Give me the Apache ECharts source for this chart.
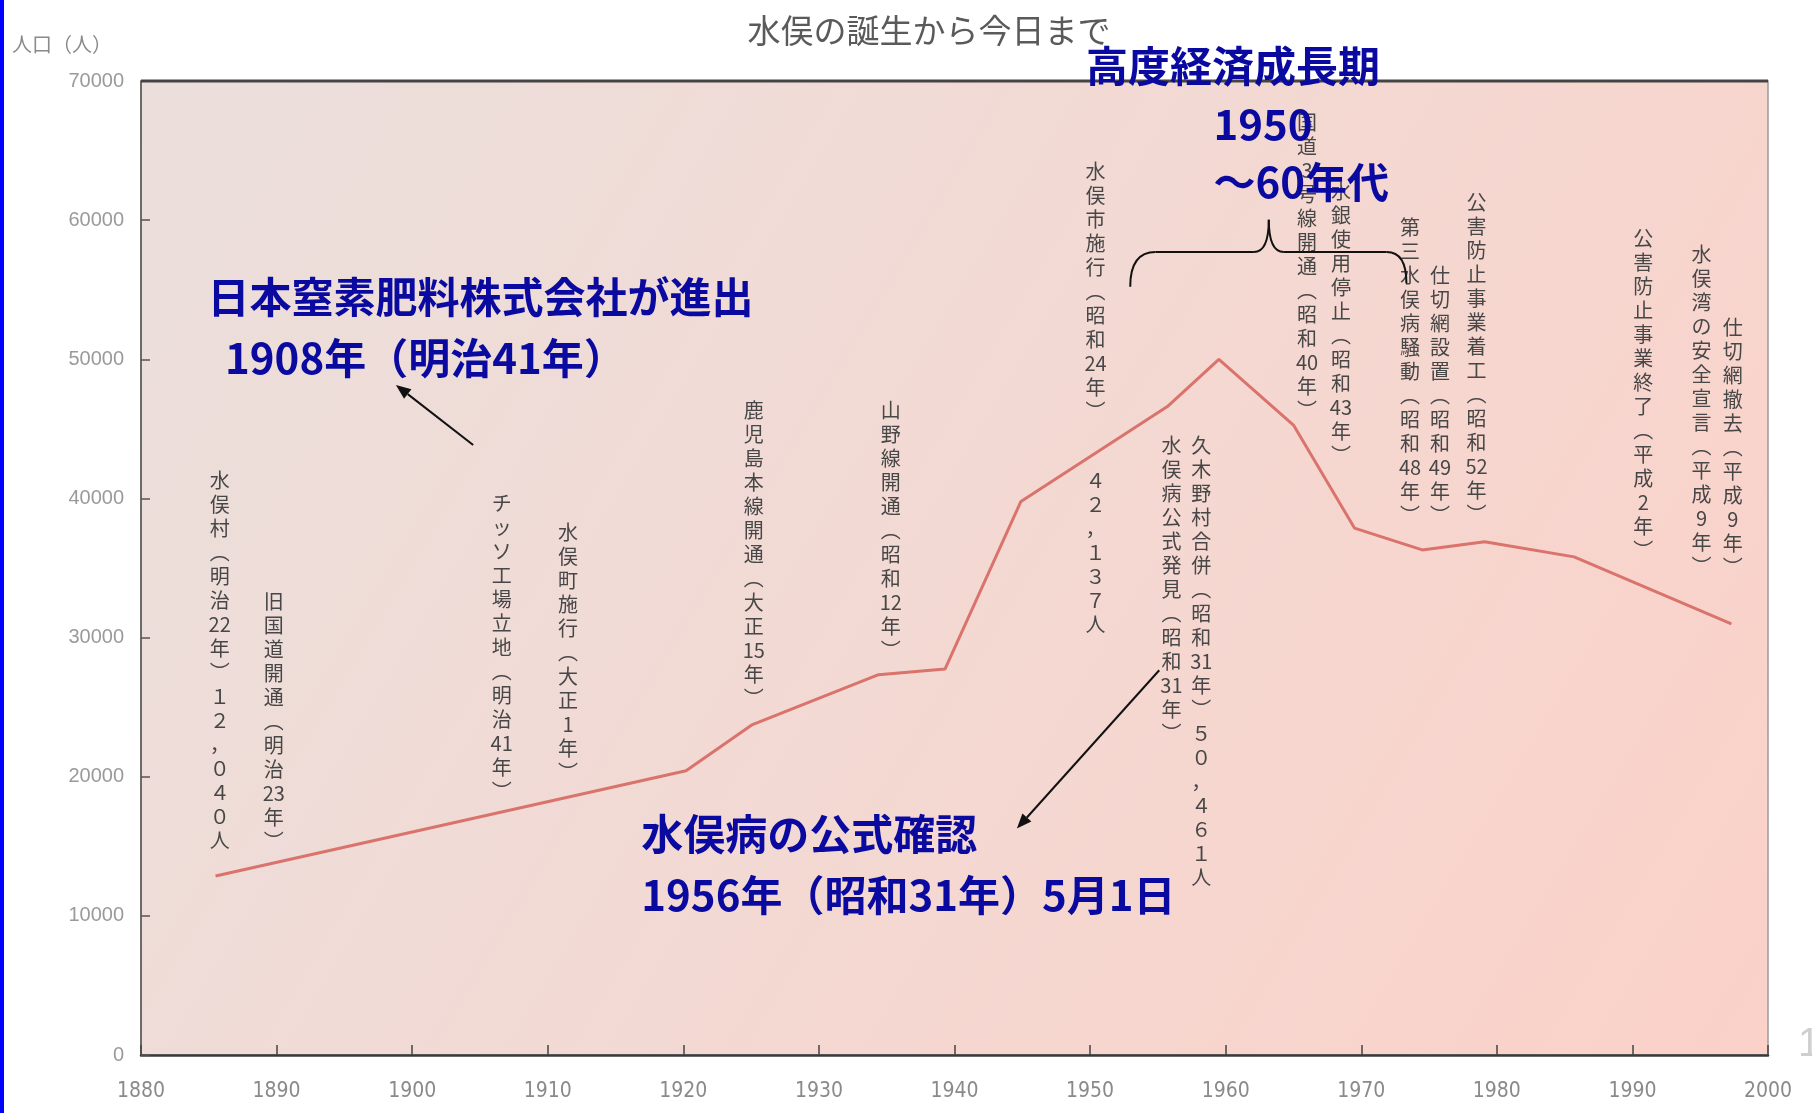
<!DOCTYPE html>
<html><head><meta charset="utf-8">
<script src="https://cdn.jsdelivr.net/npm/echarts@6/dist/echarts.min.js"></script>
<style>html,body{margin:0;padding:0;background:#fff}#c{width:1812px;height:1113px}</style>
</head><body><div id="c"></div>
<script>
// ---- data ----
const years = [1885.5, 1920.2, 1925.1, 1934.4, 1939.3, 1944.9, 1955.7, 1959.5, 1965.0, 1969.5, 1974.5, 1979.1, 1985.7, 1997.3];
const population = [12870, 20430, 23750, 27330, 27740, 39780, 46600, 50000, 45270, 37870, 36300, 36880, 35800, 30980];

// grey vertical event labels: text, x (year), top (people)
const eventTexts = [
  '水俣村（明治22年）１２，０４０人',
  '旧国道開通（明治23年）',
  'チッソ工場立地（明治41年）',
  '水俣町施行（大正1年）',
  '鹿児島本線開通（大正15年）',
  '山野線開通（昭和12年）',
  '水俣市施行（昭和24年）',
  '４２，１３７人',
  '水俣病公式発見（昭和31年）',
  '久木野村合併（昭和31年）５０，４６１人',
  '国道3号線開通（昭和40年）',
  '水銀使用停止（昭和43年）',
  '第三水俣病騒動（昭和48年）',
  '仕切網設置（昭和49年）',
  '公害防止事業着工（昭和52年）',
  '公害防止事業終了（平成2年）',
  '水俣湾の安全宣言（平成9年）',
  '仕切網撤去（平成9年）'
];
const eventYears = [1885.8, 1889.8, 1906.6, 1911.5, 1925.2, 1935.3, 1950.4, 1950.4, 1956.0, 1958.2, 1966.0, 1968.5, 1973.6, 1975.8, 1978.5, 1990.8, 1995.1, 1997.4];
const eventTops  = [42180, 33460, 40520, 38450, 47160, 47160, 64350, 42180, 44670, 44670, 67920, 62940, 60370, 56880, 62110, 59540, 58370, 53140];

// blue notes: text, left x (year), centre (people)
const noteTexts = ['日本窒素肥料株式会社が進出', '1908年（明治41年）', '高度経済成長期', '1950', '～60年代', '水俣病の公式確認', '1956年（昭和31年）5月1日'];
const noteYears = [1884.9, 1886.2, 1949.7, 1959.1, 1959.1, 1916.9, 1916.9];
const noteValues = [54470, 50070, 71080, 66930, 62770, 15860, 11460];

// arrows: [year, value]
const arrowFrom = [[1904.5, 43840], [1955.1, 27650]];
const arrowTo = [[1898.8, 48160], [1944.6, 16270]];

// brace (1950~60s)
const braceYears = [1952.96, 1954.83, 1962.08, 1963.18, 1964.29, 1971.88, 1973.33];
const braceValues = [55220, 57710, 57710, 60030, 57710, 57710, 55470];

const chart = echarts.init(document.getElementById('c'), null, {renderer: 'canvas'});
const CJK = '"Noto Sans CJK JP", sans-serif';

const option = {
  animation: false,
  backgroundColor: '#ffffff',
  title: {
    text: '水俣の誕生から今日まで',
    left: 924, top: 9, textAlign: 'center',
    textStyle: {fontFamily: CJK, fontSize: 33, fontWeight: 'normal', color: '#5a5a5a'}
  },
  grid: {
    left: 141, top: 81, width: 1627, height: 974,
    show: true, borderWidth: 1.5, borderColor: '#9a9a9a',
    backgroundColor: {
      type: 'linear', x: 0, y: 0, x2: 1, y2: 1,
      colorStops: [
        {offset: 0, color: '#ebdfdc'},
        {offset: 0.5, color: '#f3d9d3'},
        {offset: 1, color: '#fbd1c8'}
      ]
    }
  },
  xAxis: {
    type: 'value', min: 1880, max: 2000, interval: 10,
    axisLine: {lineStyle: {color: '#3a3a3a', width: 2.5}},
    axisTick: {inside: true, length: 10, lineStyle: {color: '#444', width: 1.5}},
    axisLabel: {margin: 26, color: '#8a8a8a', fontSize: 21, fontFamily: '"Liberation Sans Narrow", "DejaVu Sans Condensed", sans-serif', formatter: v => String(v)},
    splitLine: {show: false}
  },
  yAxis: {
    type: 'value', min: 0, max: 70000, interval: 10000,
    axisLine: {show: true, lineStyle: {color: '#555', width: 1.5}},
    axisTick: {show: true, inside: true, length: 9, lineStyle: {color: '#555', width: 1.5}},
    axisLabel: {margin: 17, color: '#9a9a9a', fontSize: 20, fontFamily: '"Liberation Sans", sans-serif', formatter: v => String(v)},
    splitLine: {show: false}
  },
  series: [{
    type: 'line',
    data: years.map((y, i) => [y, population[i]]),
    symbol: 'none',
    lineStyle: {color: '#d9736c', width: 3},
    z: 3
  }]
};
chart.setOption(option);

function vert(s) {
  const map = {'（': '︵', '）': '︶'};
  return s.match(/[0-9]+|./gu).map(t => map[t] || t).join('\n');
}
function px(x, y) { return chart.convertToPixel({gridIndex: 0}, [x, y]); }

const graphics = [];
// left blue stripe & clipped page number
graphics.push({type: 'rect', shape: {x: 0, y: 0, width: 4, height: 1113}, style: {fill: '#0000ff'}});
graphics.push({type: 'text', x: 1798, y: 1045, style: {text: '1', fill: '#cfcfcf', fontSize: 40, fontFamily: '"Liberation Sans", sans-serif', align: 'left', verticalAlign: 'middle'}});
// top border (thick dark)
const tl = px(1880, 70000), tr = px(2000, 70000);
graphics.push({type: 'line', z: 4, shape: {x1: tl[0], y1: tl[1], x2: tr[0], y2: tr[1]}, style: {stroke: '#444', lineWidth: 3}});
// y-axis unit
graphics.push({type: 'text', x: 12, y: 44, style: {text: '人口（人）', fill: '#8a8a8a', fontSize: 20, fontFamily: CJK, align: 'left', verticalAlign: 'middle'}});

eventTexts.forEach((t, i) => {
  const p = px(eventYears[i], eventTops[i]);
  graphics.push({type: 'text', x: p[0], y: p[1], z: 5, style: {
    text: vert(t), fill: '#474747', fontSize: 20, fontFamily: CJK, lineHeight: 24,
    align: 'center', verticalAlign: 'top'
  }});
});
noteTexts.forEach((t, i) => {
  const p = px(noteYears[i], noteValues[i]);
  graphics.push({type: 'text', x: p[0], y: p[1], z: 10, style: {
    text: t, fill: '#0a0aa0', fontSize: 42, fontWeight: 'bold', fontFamily: CJK,
    align: 'left', verticalAlign: 'middle'
  }});
});
arrowFrom.forEach((f, i) => {
  const a = px(f[0], f[1]), b = px(arrowTo[i][0], arrowTo[i][1]);
  const dx = b[0] - a[0], dy = b[1] - a[1], L = Math.hypot(dx, dy);
  const ux = dx / L, uy = dy / L, h = 15, w = 6;
  const base = [b[0] - ux * h, b[1] - uy * h];
  graphics.push({type: 'line', z: 9, shape: {x1: a[0], y1: a[1], x2: base[0], y2: base[1]}, style: {stroke: '#111', lineWidth: 2}});
  graphics.push({type: 'polygon', z: 9, shape: {points: [b, [base[0] - uy * w, base[1] + ux * w], [base[0] + uy * w, base[1] - ux * w]]}, style: {fill: '#111'}});
});
// brace built from quadratic curves and straight lines
const bp = braceYears.map((y, i) => px(y, braceValues[i]));
const braceStyle = {stroke: '#111', lineWidth: 2, fill: 'none'};
function curve(p0, cp, p1) {
  graphics.push({type: 'bezierCurve', z: 9, shape: {x1: p0[0], y1: p0[1], x2: p1[0], y2: p1[1], cpx1: cp[0], cpy1: cp[1]}, style: braceStyle});
}
function seg(p0, p1) {
  graphics.push({type: 'line', z: 9, shape: {x1: p0[0], y1: p0[1], x2: p1[0], y2: p1[1]}, style: braceStyle});
}
curve(bp[0], [bp[0][0], bp[1][1]], bp[1]);
seg(bp[1], bp[2]);
curve(bp[2], [bp[3][0], bp[2][1]], bp[3]);
curve(bp[3], [bp[3][0], bp[4][1]], bp[4]);
seg(bp[4], bp[5]);
curve(bp[5], [bp[6][0], bp[5][1]], bp[6]);

chart.setOption({graphic: graphics});
</script>
</body></html>
